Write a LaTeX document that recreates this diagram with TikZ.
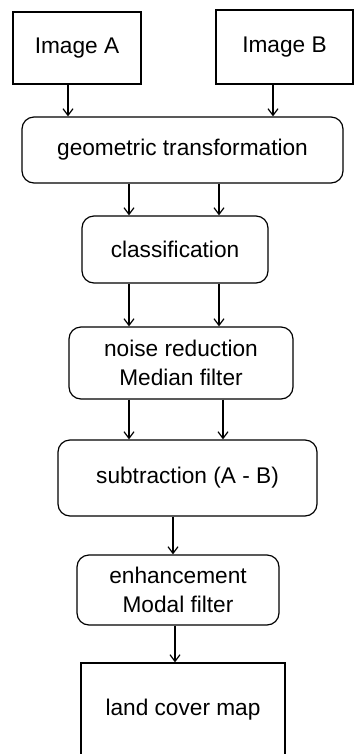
\documentclass[tikz,border=0pt]{standalone}
\usepackage{fontspec}
\setmainfont{Liberation Sans}
\usetikzlibrary{arrows.meta}

\begin{document}
\begin{tikzpicture}[
  x=0.75pt, y=-0.75pt,
  font=\fontsize{17pt}{21.75pt}\selectfont,
  >={Straight Barb[length=5pt, width=7.5pt]},
  sbox/.style={draw, line width=0.9pt, align=center, inner sep=0pt},
  rbox/.style={sbox, rounded corners=9pt},
  arr/.style={->, line width=0.9pt},
]
\useasboundingbox (0,0) rectangle (354,754);
% ---- inputs ----
\node[sbox, minimum width=96pt, minimum height=54pt] (imgA) at (77,48) {Image A};
\node[sbox, minimum width=102.75pt, minimum height=55.5pt] (imgB) at (284.5,47) {Image B};
% ---- processing steps ----
\node[rbox, minimum width=240.75pt, minimum height=49.5pt] (geo) at (182.5,150) {geometric transformation};
\node[rbox, minimum width=139.5pt, minimum height=50.25pt] (cls) at (175,249.5) {classification};
\node[rbox, minimum width=168pt, minimum height=54pt] (noise) at (181,363) {noise reduction\\Median filter};
\node[rbox, minimum width=194.25pt, minimum height=57pt] (sub) at (187.5,478) {subtraction (A - B)};
\node[rbox, minimum width=151.5pt, minimum height=52.5pt] (enh) at (178,590) {enhancement\\Modal filter};
% ---- output ----
\node[sbox, minimum width=153pt, minimum height=69.75pt] (land) at (183,709.5) {land cover map};
% ---- arrows ----
\draw[arr] (imgA.south -| 68,0) -- (geo.north -| 68,0);
\draw[arr] (imgB.south -| 273,0) -- (geo.north -| 273,0);
\draw[arr] (geo.south -| 129,0) -- (cls.north -| 129,0);
\draw[arr] (geo.south -| 219,0) -- (cls.north -| 219,0);
\draw[arr] (cls.south -| 129,0) -- (noise.north -| 129,0);
\draw[arr] (cls.south -| 219,0) -- (noise.north -| 219,0);
\draw[arr] (noise.south -| 129,0) -- (sub.north -| 129,0);
\draw[arr] (noise.south -| 223,0) -- (sub.north -| 223,0);
\draw[arr] (sub.south -| 173,0) -- (enh.north -| 173,0);
\draw[arr] (enh.south -| 175,0) -- (land.north -| 175,0);
\end{tikzpicture}
\end{document}
